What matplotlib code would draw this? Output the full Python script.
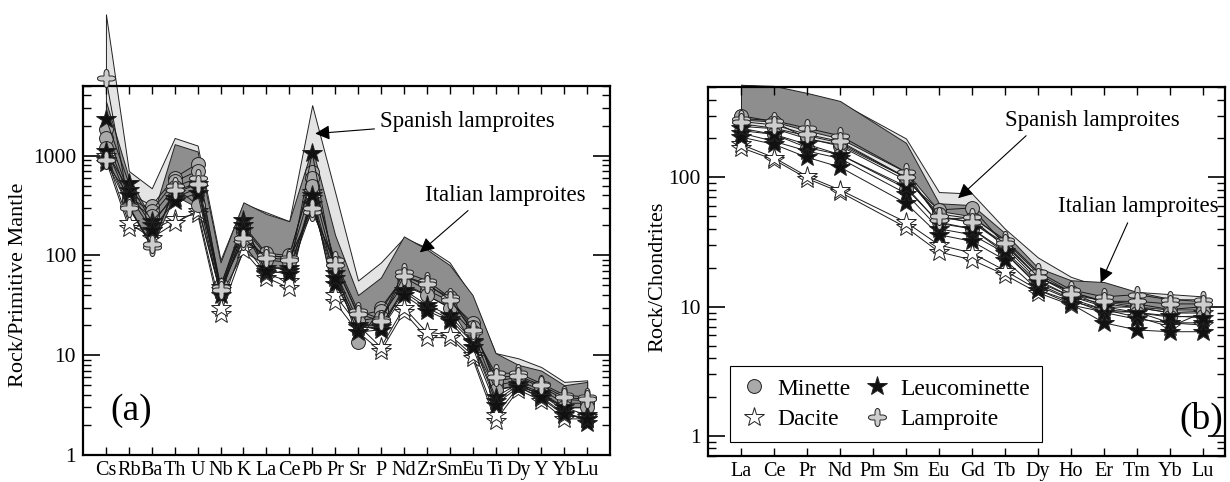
import numpy as np
import matplotlib.pyplot as plt
from matplotlib.lines import Line2D
from matplotlib.path import Path
from matplotlib.ticker import LogLocator, NullFormatter, FuncFormatter

plt.rcParams['font.family'] = ['Liberation Serif', 'DejaVu Serif']

# ---------------- (a) primitive mantle normalised ----------------
pm_elements = ['Cs', 'Rb', 'Ba', 'Th', 'U', 'Nb', 'K', 'La', 'Ce', 'Pb', 'Pr',
               'Sr', 'P', 'Nd', 'Zr', 'Sm', 'Eu', 'Ti', 'Dy', 'Y', 'Yb', 'Lu']

pm_spanish_hi = [26000, 700, 470, 1500, 1260, 90, 330, 270, 220, 3200, 430,
                 56, 85, 150, 120, 85, 38, 10.5, 9.3, 7.6, 5.4, 5.6]
pm_spanish_lo = [1500, 350, 150, 500, 400, 45, 120, 90, 80, 500, 80,
                 25, 22, 60, 45, 35, 15, 5, 5.5, 4.5, 3.5, 3.5]
pm_italian_hi = [3500, 600, 230, 1300, 1100, 85, 340, 260, 220, 1200, 160,
                 40, 60, 155, 115, 80, 40, 10.5, 8, 7, 5, 5.4]
pm_italian_lo = [1000, 300, 120, 400, 300, 40, 110, 80, 70, 300, 60,
                 20, 18, 50, 40, 30, 13, 4.5, 5, 4, 3, 3]

pm_minette = [
    [1860, 415, 316, 600, 830, 45, 190, 100, 95, 680, 80, 13.5, 30, 60, 45, 35, 21, 5, 5.5, 4.5, 3.3, 3.3],
    [1500, 380, 280, 550, 700, 50, 200, 105, 100, 600, 85, 25, 28, 62, 50, 38, 19, 5.5, 6, 4.8, 3.6, 3.5],
    [1200, 350, 250, 480, 320, 42, 170, 90, 85, 500, 70, 22, 24, 52, 40, 30, 17, 4.5, 5, 4, 3, 3],
]
pm_leucominette = [
    [2340, 530, 220, 380, 470, 48, 224, 66, 70, 1070, 66, 19, 19, 43, 30, 23, 13.5, 3.5, 5, 4, 2.8, 2.1],
    [1120, 450, 200, 420, 520, 45, 200, 75, 75, 330, 52, 20, 20, 45, 32, 25, 14, 3.8, 5.2, 4.2, 3, 2.5],
    [850, 400, 180, 350, 420, 40, 180, 70, 65, 400, 60, 17, 18, 40, 28, 22, 12, 3.2, 4.8, 3.8, 2.6, 2.3],
]
pm_dacite = [
    [900, 190, 178, 234, 260, 26, 112, 60, 47, 430, 34, 17, 11, 27, 15, 15, 9.3, 2.2, 4.5, 3.5, 2.3, 2.3],
    [1000, 210, 150, 209, 280, 30, 130, 65, 55, 380, 40, 20, 12, 30, 17, 16, 10, 2.5, 4.8, 3.7, 2.5, 2.4],
]
pm_lamproite = [
    [6000, 316, 120, 490, 590, 48, 140, 100, 95, 270, 89, 28, 23, 68, 56, 38, 17, 6.6, 6.6, 5.2, 4, 3.8],
    [900, 300, 130, 450, 520, 45, 150, 95, 90, 300, 80, 26, 22, 62, 52, 36, 18, 6, 6.2, 5, 3.8, 3.6],
]

# ---------------- (b) chondrite normalised REE ----------------
ree_elements = ['La', 'Ce', 'Pr', 'Nd', 'Pm', 'Sm', 'Eu', 'Gd', 'Tb', 'Dy',
                'Ho', 'Er', 'Tm', 'Yb', 'Lu']
nan = np.nan
ree_spanish_hi = [520, 500, 440, 380, nan, 200, 77, 75, 40, 24, 17, 14, 13, 12.5, 12]
ree_spanish_lo = [250, 240, 200, 180, nan, 100, 50, 45, 30, 17, 13, 10, 10, 9, 9]
ree_italian_hi = [520, 510, 450, 390, nan, 185, 63, 61, 37, 20, 16, 15.5, 13, 11.5, 11]
ree_italian_lo = [280, 270, 230, 200, nan, 110, 55, 50, 32, 18, 13, 11, 10, 9.5, 9.5]

ree_minette = [
    [300, 270, 200, 175, nan, 95, 56, 58, 30, 17, 13, 11, 10.5, 9.5, 10],
    [260, 240, 210, 185, nan, 100, 52, 48, 29, 16, 12, 10.5, 9.8, 9, 9.2],
    [230, 215, 170, 150, nan, 82, 45, 40, 26, 15, 11.5, 9.5, 9, 8.3, 8.5],
]
ree_leucominette = [
    [220, 190, 160, 140, nan, 75, 40, 36, 26, 14.5, 11.3, 9, 8, 7.5, 7.5],
    [205, 180, 143, 120, nan, 63, 36, 32, 23, 13.5, 10.5, 7.5, 6.6, 6.4, 6.4],
    [240, 215, 180, 150, nan, 85, 44, 40, 27, 15.5, 12, 10, 9, 8.5, 8.2],
]
ree_dacite = [
    [170, 137, 98, 77, nan, 41, 26.5, 23, 17.6, 12.8, 10.3, 9.1, 9.1, 7.5, 7.2],
    [180, 142, 102, 80, nan, 45, 30, 26, 19, 13.5, 11, 9.5, 8.3, 7, 9],
]
ree_lamproite = [
    [285, 275, 240, 210, nan, 110, 47, 49, 33, 18.6, 13.5, 11.9, 12.4, 11.3, 11.3],
    [270, 255, 215, 190, nan, 100, 50, 45, 31, 17, 12.5, 11, 11, 10.5, 10.5],
]

# rounded four-lobed marker for the lamproites
t = np.linspace(0, 2 * np.pi, 121)
r = 1 + 0.42 * np.cos(4 * t)
quatrefoil = Path(np.column_stack([r * np.cos(t), r * np.sin(t)]))

styles = {
    'Minette': dict(marker='o', mfc='#a9a9a9', ms=10),
    'Leucominette': dict(marker='*', mfc='#111111', ms=15),
    'Dacite': dict(marker='*', mfc='white', ms=15),
    'Lamproite': dict(marker=quatrefoil, mfc='#cdcdcd', ms=13),
}


def draw_panel(ax, n, fields, groups):
    x = np.arange(1, n + 1)
    for hi, lo, fc in fields:
        hi = np.array(hi, float)
        lo = np.array(lo, float)
        ok = np.isfinite(hi)
        ax.fill_between(x[ok], lo[ok], hi[ok], facecolor=fc, edgecolor='#222222',
                        linewidth=0.7, zorder=1, clip_on=False)
    for name, samples in groups:
        for s in samples:
            s = np.array(s, float)
            ok = np.isfinite(s)
            ax.plot(x[ok], s[ok], color='#1a1a1a', linewidth=0.7, mec='#222222',
                    mew=0.7, zorder=3, clip_on=False, **styles[name])


def style_axes(ax):
    ax.set_yscale('log')
    for sp in ax.spines.values():
        sp.set_linewidth(1.6)
    ax.yaxis.set_major_locator(LogLocator(base=10))
    ax.yaxis.set_minor_locator(LogLocator(base=10, subs=np.arange(2, 10)))
    ax.yaxis.set_minor_formatter(NullFormatter())
    ax.yaxis.set_major_formatter(FuncFormatter(lambda v, p: '%d' % round(v)))
    ax.tick_params(which='both', direction='in', top=True, right=True)
    ax.tick_params(axis='x', which='major', length=6, width=1, labelsize=14.5, pad=4)
    ax.tick_params(axis='y', which='major', length=12, width=1.2, labelsize=15.5, pad=5)
    ax.tick_params(axis='y', which='minor', length=6, width=1)


fig = plt.figure(figsize=(12.3, 4.82), dpi=100)
ax1 = fig.add_axes([0.0675, 0.056, 0.4285, 0.766])
ax2 = fig.add_axes([0.5756, 0.054, 0.4204, 0.7655])

groups_a = [('Dacite', pm_dacite), ('Minette', pm_minette),
            ('Leucominette', pm_leucominette), ('Lamproite', pm_lamproite)]
draw_panel(ax1, len(pm_elements),
           [(pm_spanish_hi, pm_spanish_lo, '#e4e4e4'),
            (pm_italian_hi, pm_italian_lo, '#8e8e8e')], groups_a)
style_axes(ax1)
ax1.set_xlim(0, len(pm_elements) + 1)
ax1.set_ylim(1, 5000)
ax1.set_xticks(np.arange(1, len(pm_elements) + 1))
ax1.set_xticklabels(pm_elements)
ax1.set_ylabel('Rock/Primitive Mantle', fontsize=16)
ax1.yaxis.set_label_coords(-0.104, 0.46)
ax1.text(1.2, 2.8, '(a)', fontsize=27, va='center', ha='left')
ax1.annotate('Spanish lamproites', xy=(10.13, 1660), xytext=(12.96, 2190),
             fontsize=16.5, va='center', ha='left',
             arrowprops=dict(arrowstyle='-|>', color='black', lw=0.8,
                             mutation_scale=22, shrinkA=2, shrinkB=0))
ax1.annotate('Italian lamproites', xy=(14.7, 107), xytext=(14.93, 398),
             fontsize=16.5, va='center', ha='left',
             arrowprops=dict(arrowstyle='-|>', color='black', lw=0.8,
                             mutation_scale=22, shrinkA=2, shrinkB=0,
                             relpos=(0.3, 0.0)))

groups_b = [('Dacite', ree_dacite), ('Minette', ree_minette),
            ('Leucominette', ree_leucominette), ('Lamproite', ree_lamproite)]
draw_panel(ax2, len(ree_elements),
           [(ree_spanish_hi, ree_spanish_lo, '#e4e4e4'),
            (ree_italian_hi, ree_italian_lo, '#8e8e8e')], groups_b)
style_axes(ax2)
ax2.set_xlim(0, len(ree_elements) + 0.67)
ax2.set_ylim(0.7, 500)
ax2.set_xticks(np.arange(1, len(ree_elements) + 1))
ax2.set_xticklabels(ree_elements)
ax2.set_ylabel('Rock/Chondrites', fontsize=16)
ax2.yaxis.set_label_coords(-0.079, 0.485)
ax2.text(15.6, 1.35, '(b)', fontsize=27, va='center', ha='right')
ax2.annotate('Spanish lamproites', xy=(7.58, 69), xytext=(9.0, 275),
             fontsize=16.5, va='center', ha='left',
             arrowprops=dict(arrowstyle='-|>', color='black', lw=0.8,
                             mutation_scale=22, shrinkA=2, shrinkB=0,
                             relpos=(0.15, 0.0)))
ax2.annotate('Italian lamproites', xy=(11.9, 15.3), xytext=(10.6, 59),
             fontsize=16.5, va='center', ha='left',
             arrowprops=dict(arrowstyle='-|>', color='black', lw=0.8,
                             mutation_scale=22, shrinkA=2, shrinkB=0,
                             relpos=(0.45, 0.0)))

order = ['Minette', 'Dacite', 'Leucominette', 'Lamproite']
handles = [Line2D([], [], linestyle='none', mec='#222222', mew=0.7, **styles[k])
           for k in order]
leg = ax2.legend(handles, order, ncol=2, loc='lower left',
                 bbox_to_anchor=(0.043, 0.038), borderaxespad=0, fontsize=17,
                 fancybox=False, edgecolor='black', framealpha=1,
                 handlelength=1.0, handletextpad=0.5, columnspacing=0.6,
                 borderpad=0.5, labelspacing=0.38)
leg.get_frame().set_linewidth(0.8)

fig.savefig('out.png', dpi=100)
